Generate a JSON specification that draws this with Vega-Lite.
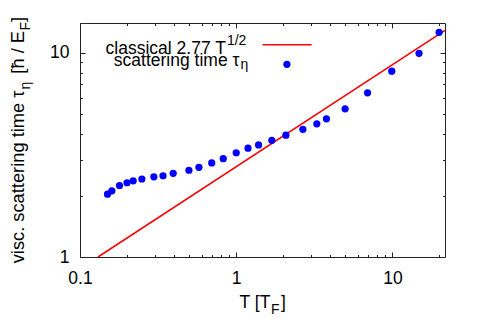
{
  "$schema": "https://vega.github.io/schema/vega-lite/v6.json",
  "width": 365,
  "height": 234,
  "autosize": "none",
  "padding": {"left": 80, "top": 23, "right": 34, "bottom": 78},
  "background": "white",
  "config": {
    "view": {"stroke": null},
    "font": "Liberation Sans",
    "text": {"font": "Liberation Sans", "fontSize": 17.5, "color": "#000000"},
    "axis": {
      "grid": false,
      "title": null,
      "domainColor": "#222222",
      "domainWidth": 1,
      "tickColor": "#222222",
      "tickWidth": 1,
      "labelColor": "#000000",
      "labelFont": "Liberation Sans",
      "labelFontSize": 17.5,
      "labelOverlap": false,
      "labelFlush": false,
      "labelBound": false
    }
  },
  "datasets": {
    "tau": [
      {"T": 0.150, "tau": 2.03},
      {"T": 0.160, "tau": 2.11},
      {"T": 0.179, "tau": 2.24},
      {"T": 0.200, "tau": 2.31},
      {"T": 0.219, "tau": 2.36},
      {"T": 0.249, "tau": 2.41},
      {"T": 0.297, "tau": 2.47},
      {"T": 0.340, "tau": 2.50},
      {"T": 0.395, "tau": 2.57},
      {"T": 0.498, "tau": 2.66},
      {"T": 0.577, "tau": 2.75},
      {"T": 0.697, "tau": 2.89},
      {"T": 0.826, "tau": 3.03},
      {"T": 1.00, "tau": 3.24},
      {"T": 1.19, "tau": 3.41},
      {"T": 1.39, "tau": 3.54},
      {"T": 1.69, "tau": 3.73},
      {"T": 2.08, "tau": 3.95},
      {"T": 2.67, "tau": 4.22},
      {"T": 3.28, "tau": 4.49},
      {"T": 3.78, "tau": 4.75},
      {"T": 4.98, "tau": 5.32},
      {"T": 6.93, "tau": 6.37},
      {"T": 9.9, "tau": 8.13},
      {"T": 14.8, "tau": 9.95},
      {"T": 19.9, "tau": 12.6}
    ],
    "classical": [
      {"T": 0.1303, "tau": 1.0},
      {"T": 21.7, "tau": 12.9}
    ]
  },
  "layer": [
    {
      "data": {"name": "classical"},
      "mark": {"type": "line", "color": "#ff0000", "strokeWidth": 1.5},
      "encoding": {
        "x": {
          "field": "T", "type": "quantitative",
          "scale": {"type": "log", "domain": [0.1, 21.7], "nice": false},
          "axis": {
            "orient": "bottom",
            "title": null,
            "values": [0.1, 0.2, 0.3, 0.4, 0.5, 0.6, 0.7, 0.8, 0.9, 1, 2, 3, 4, 5, 6, 7, 8, 9, 10, 20],
            "tickSize": {"condition": {"test": "datum.value == 0.1 || datum.value == 1 || datum.value == 10", "value": -5}, "value": -2.5},
            "labelPadding": 17,
            "labelExpr": "datum.value == 0.1 ? '0.1' : datum.value == 1 ? '1' : datum.value == 10 ? '10' : ''"
          }
        },
        "y": {
          "field": "tau", "type": "quantitative",
          "scale": {"type": "log", "domain": [1, 14], "nice": false},
          "axis": {
            "orient": "left",
            "title": null,
            "values": [1, 2, 3, 4, 5, 6, 7, 8, 9, 10],
            "tickSize": {"condition": {"test": "datum.value == 1 || datum.value == 10", "value": -5}, "value": -2.5},
            "labelPadding": 16,
            "labelExpr": "datum.value == 1 ? '1' : datum.value == 10 ? '10' : ''"
          }
        }
      }
    },
    {
      "data": {"name": "tau"},
      "mark": {"type": "circle", "color": "#0000ff", "size": 52, "opacity": 1},
      "encoding": {
        "x": {
          "field": "T", "type": "quantitative",
          "scale": {"type": "log", "domain": [0.1, 21.7], "nice": false},
          "axis": {
            "orient": "top",
            "title": null,
            "values": [0.1, 0.2, 0.3, 0.4, 0.5, 0.6, 0.7, 0.8, 0.9, 1, 2, 3, 4, 5, 6, 7, 8, 9, 10, 20],
            "tickSize": {"condition": {"test": "datum.value == 0.1 || datum.value == 1 || datum.value == 10", "value": -5}, "value": -2.5},
            "labels": false
          }
        },
        "y": {
          "field": "tau", "type": "quantitative",
          "scale": {"type": "log", "domain": [1, 14], "nice": false},
          "axis": {
            "orient": "right",
            "title": null,
            "values": [1, 2, 3, 4, 5, 6, 7, 8, 9, 10],
            "tickSize": {"condition": {"test": "datum.value == 1 || datum.value == 10", "value": -5}, "value": -2.5},
            "labels": false
          }
        }
      }
    },
    {
      "data": {"values": [{}]},
      "mark": {"type": "text", "align": "right", "baseline": "alphabetic"},
      "encoding": {
        "x": {"datum": 0.859, "type": "quantitative", "axis": null},
        "y": {"datum": 9.87, "type": "quantitative", "axis": null},
        "text": {"value": "classical 2.77 T"}
      }
    },
    {
      "data": {"values": [{}]},
      "mark": {"type": "text", "align": "left", "baseline": "alphabetic", "fontSize": 14, "dx": 1, "dy": -9},
      "encoding": {
        "x": {"datum": 0.859, "type": "quantitative", "axis": null},
        "y": {"datum": 9.87, "type": "quantitative", "axis": null},
        "text": {"value": "1/2"}
      }
    },
    {
      "data": {"values": [{}]},
      "mark": {"type": "text", "align": "right", "baseline": "alphabetic"},
      "encoding": {
        "x": {"datum": 1.048, "type": "quantitative", "axis": null},
        "y": {"datum": 8.66, "type": "quantitative", "axis": null},
        "text": {"value": "scattering time τ"}
      }
    },
    {
      "data": {"values": [{}]},
      "mark": {"type": "text", "align": "left", "baseline": "alphabetic", "fontSize": 14, "dx": 1, "dy": 3.5},
      "encoding": {
        "x": {"datum": 1.048, "type": "quantitative", "axis": null},
        "y": {"datum": 8.66, "type": "quantitative", "axis": null},
        "text": {"value": "η"}
      }
    },
    {
      "data": {"values": [{}]},
      "mark": {"type": "rule", "color": "#ff0000", "strokeWidth": 1.5},
      "encoding": {
        "x": {"datum": 1.475, "type": "quantitative", "axis": null},
        "x2": {"datum": 3.037},
        "y": {"datum": 10.94, "type": "quantitative", "axis": null}
      }
    },
    {
      "data": {"values": [{}]},
      "mark": {"type": "circle", "color": "#0000ff", "size": 52, "opacity": 1},
      "encoding": {
        "x": {"datum": 2.111, "type": "quantitative", "axis": null},
        "y": {"datum": 8.79, "type": "quantitative", "axis": null}
      }
    },
    {
      "data": {"values": [{}]},
      "mark": {"type": "text", "align": "right", "baseline": "alphabetic", "dy": 51},
      "encoding": {
        "x": {"datum": 1.655, "type": "quantitative", "axis": null},
        "y": {"datum": 1, "type": "quantitative", "axis": null},
        "text": {"value": "T [T"}
      }
    },
    {
      "data": {"values": [{}]},
      "mark": {"type": "text", "align": "left", "baseline": "alphabetic", "fontSize": 14, "dx": 0.5, "dy": 57},
      "encoding": {
        "x": {"datum": 1.655, "type": "quantitative", "axis": null},
        "y": {"datum": 1, "type": "quantitative", "axis": null},
        "text": {"value": "F"}
      }
    },
    {
      "data": {"values": [{}]},
      "mark": {"type": "text", "align": "left", "baseline": "alphabetic", "dx": 10.5, "dy": 51},
      "encoding": {
        "x": {"datum": 1.655, "type": "quantitative", "axis": null},
        "y": {"datum": 1, "type": "quantitative", "axis": null},
        "text": {"value": "]"}
      }
    },
    {
      "data": {"values": [{}]},
      "mark": {"type": "text", "align": "right", "baseline": "alphabetic", "angle": 270, "fontSize": 18.3, "dx": 0, "dy": -55.7},
      "encoding": {
        "x": {"datum": 0.1, "type": "quantitative", "axis": null},
        "y": {"datum": 6.54, "type": "quantitative", "axis": null},
        "text": {"value": "visc. scattering time τ"}
      }
    },
    {
      "data": {"values": [{}]},
      "mark": {"type": "text", "align": "left", "baseline": "alphabetic", "angle": 270, "fontSize": 14, "dx": 1, "dy": -50.2},
      "encoding": {
        "x": {"datum": 0.1, "type": "quantitative", "axis": null},
        "y": {"datum": 6.54, "type": "quantitative", "axis": null},
        "text": {"value": "η"}
      }
    },
    {
      "data": {"values": [{}]},
      "mark": {"type": "text", "align": "right", "baseline": "alphabetic", "angle": 270, "fontSize": 18.3, "dx": 59.5, "dy": -55.7},
      "encoding": {
        "x": {"datum": 0.1, "type": "quantitative", "axis": null},
        "y": {"datum": 6.54, "type": "quantitative", "axis": null},
        "text": {"value": "[ħ / E"}
      }
    },
    {
      "data": {"values": [{}]},
      "mark": {"type": "text", "align": "left", "baseline": "alphabetic", "angle": 270, "fontSize": 14, "dx": 60, "dy": -49.7},
      "encoding": {
        "x": {"datum": 0.1, "type": "quantitative", "axis": null},
        "y": {"datum": 6.54, "type": "quantitative", "axis": null},
        "text": {"value": "F"}
      }
    },
    {
      "data": {"values": [{}]},
      "mark": {"type": "text", "align": "left", "baseline": "alphabetic", "angle": 270, "fontSize": 18.3, "dx": 68.5, "dy": -55.7},
      "encoding": {
        "x": {"datum": 0.1, "type": "quantitative", "axis": null},
        "y": {"datum": 6.54, "type": "quantitative", "axis": null},
        "text": {"value": "]"}
      }
    }
  ],
  "resolve": {"axis": {"x": "independent", "y": "independent"}}
}
